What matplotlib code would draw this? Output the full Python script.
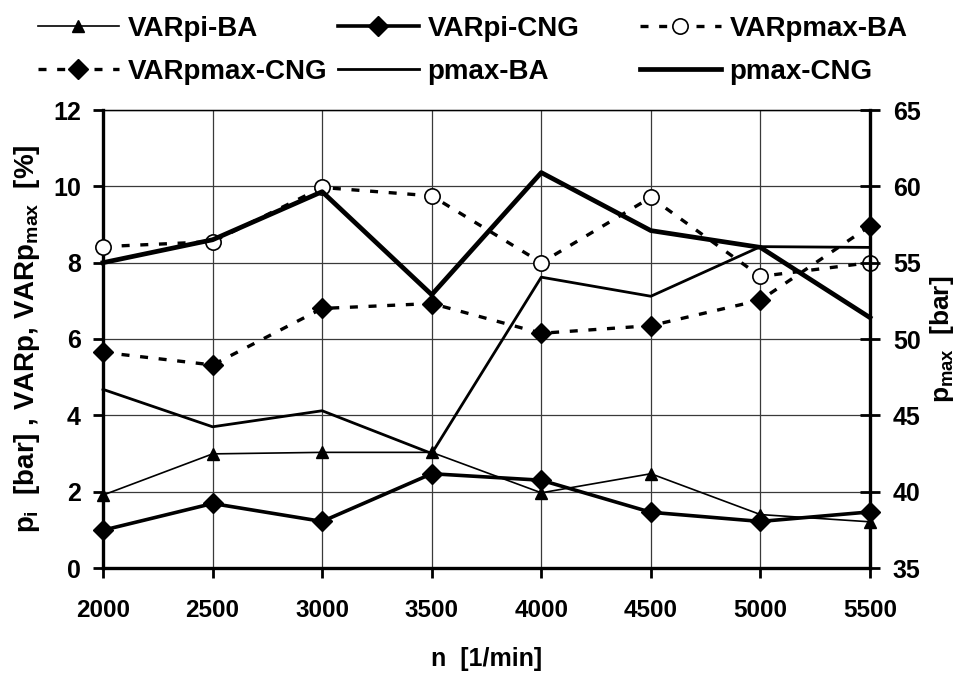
import matplotlib
matplotlib.use("Agg")
import matplotlib.pyplot as plt

plt.rcParams['font.family'] = ['Liberation Sans', 'DejaVu Sans']
plt.rcParams['font.weight'] = 'bold'
plt.rcParams['axes.labelweight'] = 'bold'
plt.rcParams['mathtext.fontset'] = 'custom'
plt.rcParams['mathtext.rm'] = 'Liberation Sans:bold'
plt.rcParams['mathtext.it'] = 'Liberation Sans:bold'
plt.rcParams['mathtext.bf'] = 'Liberation Sans:bold'

# engine speed
n = [2000, 2500, 3000, 3500, 4000, 4500, 5000, 5500]

# left axis values [bar] / [%]
var_pi_ba = [1.91, 2.99, 3.03, 3.03, 1.97, 2.47, 1.40, 1.21]
var_pi_cng = [0.99, 1.69, 1.22, 2.47, 2.30, 1.46, 1.22, 1.47]
var_pmax_ba = [8.42, 8.55, 9.97, 9.75, 8.0, 9.71, 7.64, 8.0]
var_pmax_cng = [5.65, 5.32, 6.80, 6.93, 6.15, 6.35, 7.02, 8.96]

# right axis values [bar]
pmax_ba = [46.7, 44.25, 45.3, 42.5, 54.05, 52.8, 56.05, 56.0]
pmax_cng = [55.0, 56.5, 59.65, 52.9, 60.9, 57.1, 56.0, 51.4]

W, H = 957, 677
fig = plt.figure(figsize=(W / 100, H / 100), dpi=100)
ax = fig.add_axes([103 / W, 1 - 568 / H, (870 - 103) / W, (568 - 110) / H])
ax2 = ax.twinx()

dash = (2.4, 3.2)

l1, = ax.plot(n, var_pi_ba, color='black', lw=1.2, marker='^', ms=9,
              clip_on=False, zorder=5, label='VARpi-BA')
l2, = ax.plot(n, var_pi_cng, color='black', lw=2.6, marker='D', ms=10,
              clip_on=False, zorder=5, label='VARpi-CNG')
l3, = ax.plot(n, var_pmax_ba, color='black', lw=2.4, dashes=dash, marker='o',
              ms=11, mfc='white', mec='black', mew=1.2,
              clip_on=False, zorder=5, label='VARpmax-BA')
l4, = ax.plot(n, var_pmax_cng, color='black', lw=2.4, dashes=dash, marker='D',
              ms=10, clip_on=False, zorder=5, label='VARpmax-CNG')
l5, = ax2.plot(n, pmax_ba, color='black', lw=2.0, clip_on=False,
               label='pmax-BA')
l6, = ax2.plot(n, pmax_cng, color='black', lw=3.4, clip_on=False,
               label='pmax-CNG')

ax.set_xlim(2000, 5500)
ax.set_ylim(0, 12)
ax2.set_ylim(35, 65)
ax.set_xticks(n)
ax.set_yticks(range(0, 13, 2))
ax2.set_yticks(range(35, 66, 5))

ax.grid(True, color='#3a3a3a', lw=0.9)
ax.set_axisbelow(True)

for s in ['left', 'bottom']:
    ax.spines[s].set_linewidth(2.4)
ax2.spines['right'].set_linewidth(2.4)
ax.spines['top'].set_linewidth(0.9)
ax2.spines['top'].set_linewidth(0.9)
ax2.spines['left'].set_visible(False)
ax2.spines['bottom'].set_visible(False)

ax.tick_params(axis='x', direction='out', length=7, width=2, labelsize=17.5, pad=15)
ax.tick_params(axis='y', direction='out', length=7, width=2, labelsize=18, pad=9)
ax2.tick_params(axis='y', direction='inout', length=15, width=2, labelsize=18, pad=9)

ax.set_xlabel('n  [1/min]', fontsize=18, labelpad=18)
ax.set_ylabel(r'$p_i$  [bar] , VARp, VAR$p_{max}$  [%]', fontsize=20, labelpad=8)
ax2.set_ylabel(r'$p_{max}$  [bar]', fontsize=19, labelpad=5)

# legend: three equal-width columns above the plot
cols = [[l1, l4], [l2, l5], [l3, l6]]
xs = [38, 338, 640]
for hs, x0 in zip(cols, xs):
    fig.legend(handles=hs, loc='upper left', bbox_to_anchor=(x0 / W, 1 - 16 / H),
               frameon=False, fontsize=20, handlelength=2.9, handletextpad=0.33,
               labelspacing=0.62, borderpad=0, borderaxespad=0)

fig.savefig('out.png', dpi=100)
